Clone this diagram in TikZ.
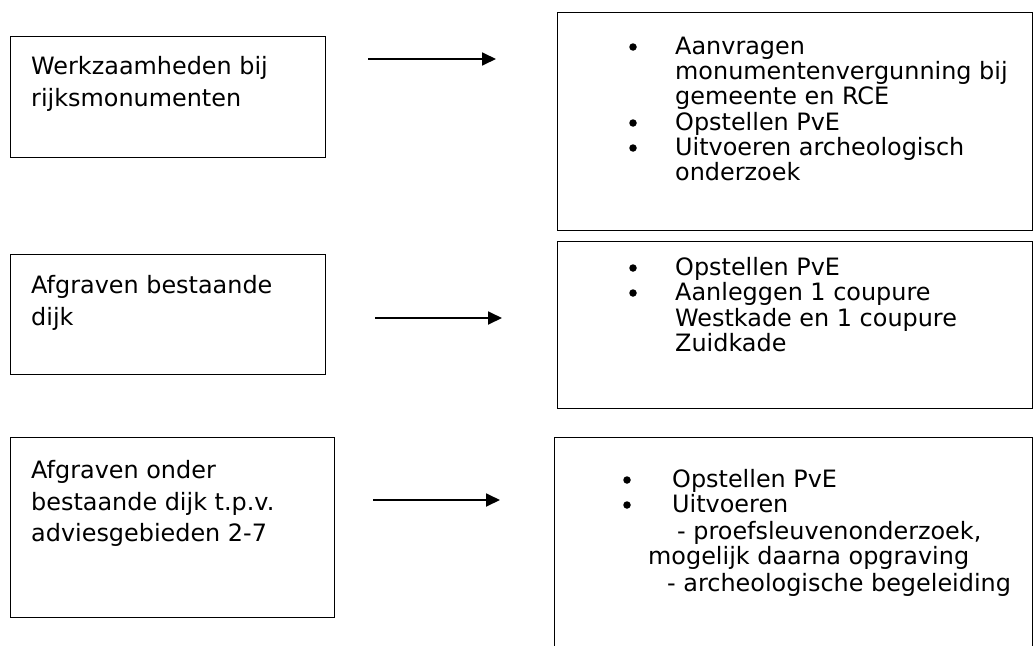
\documentclass[tikz,border=0pt]{standalone}
\usepackage{fontspec}
\setmainfont{DejaVu Sans}
\usetikzlibrary{arrows.meta}
\newcommand{\fs}{\fontsize{23.9pt}{25pt}\selectfont}
\tikzset{
  box/.style={draw=black, line width=1.2pt, inner sep=0pt, anchor=north west},
  txt/.style={anchor=base west, inner sep=0pt, font=\fs},
  arr/.style={-{Triangle[length=14pt,width=13pt]}, line width=1.8pt},
  bul/.style={circle, fill=black, inner sep=0pt, minimum size=7.5pt}
}
\begin{document}
\begin{tikzpicture}[x=1pt,y=-1pt]
\useasboundingbox (0,0) rectangle (1033,645);
\fill[white] (0,0) rectangle (1033,645);
% left boxes
\node[box, minimum width=315pt, minimum height=121pt] (l1) at (10,36) {};
\node[box, minimum width=315pt, minimum height=120pt] (l2) at (10,254) {};
\node[box, minimum width=324pt, minimum height=180pt] (l3) at (10,437) {};
% right boxes
\node[box, minimum width=475pt, minimum height=218pt] (r1) at (557,12) {};
\node[box, minimum width=475pt, minimum height=167pt] (r2) at (557,241) {};
\node[box, minimum width=478pt, minimum height=250pt] (r3) at (554,437) {};
% left texts
\node[txt] (l1a) at (31,74) {Werkzaamheden bij};
\node[txt] (l1b) at (31,106) {rijksmonumenten};
\node[txt] (l2a) at (31,293) {Afgraven bestaande};
\node[txt] (l2b) at (31,325) {dijk};
\node[txt] (l3a) at (31,478) {Afgraven onder};
\node[txt] (l3b) at (31,510) {bestaande dijk t.p.v.};
\node[txt] (l3c) at (31,541) {adviesgebieden 2-7};
% right box 1
\node[bul] (b1a) at (633,47) {};
\node[txt] (r1a) at (675,54) {Aanvragen};
\node[txt] (r1b) at (675,79.3) {monumentenvergunning bij};
\node[txt] (r1c) at (675,104.6) {gemeente en RCE};
\node[bul] (b1b) at (633,123) {};
\node[txt] (r1d) at (675,130) {Opstellen PvE};
\node[bul] (b1c) at (633,148) {};
\node[txt] (r1e) at (675,155) {Uitvoeren archeologisch};
\node[txt] (r1f) at (675,180.5) {onderzoek};
% right box 2
\node[bul] (b2a) at (633,268) {};
\node[txt] (r2a) at (675,275) {Opstellen PvE};
\node[bul] (b2b) at (633,293) {};
\node[txt] (r2b) at (675,300) {Aanleggen 1 coupure};
\node[txt] (r2c) at (675,326) {Westkade en 1 coupure};
\node[txt] (r2d) at (675,351) {Zuidkade};
% right box 3
\node[bul] (b3a) at (627,480) {};
\node[txt] (r3a) at (672,487) {Opstellen PvE};
\node[bul] (b3b) at (627,505) {};
\node[txt] (r3b) at (672,512) {Uitvoeren};
\node[txt] (r3c) at (677,539) {- proefsleuvenonderzoek,};
\node[txt] (r3d) at (648,564) {mogelijk daarna opgraving};
\node[txt] (r3e) at (667,591) {- archeologische begeleiding};
% arrows
\coordinate (a1s) at (368,59);
\coordinate (a1e) at (496,59);
\coordinate (a2s) at (375,318);
\coordinate (a2e) at (502,318);
\coordinate (a3s) at (373,500);
\coordinate (a3e) at (500,500);
\draw[arr] (a1s) -- (a1e);
\draw[arr] (a2s) -- (a2e);
\draw[arr] (a3s) -- (a3e);
\end{tikzpicture}
\end{document}
